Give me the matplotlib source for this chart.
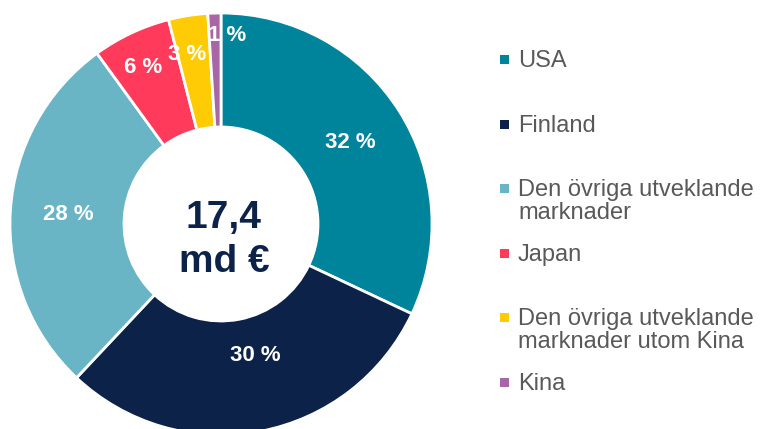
import numpy as np
import matplotlib
matplotlib.use("Agg")
import matplotlib.pyplot as plt
from matplotlib.patches import Rectangle

plt.rcParams['font.family'] = ['Liberation Sans', 'DejaVu Sans']

categories = ["USA", "Finland", "Den övriga utveklande\nmarknader", "Japan",
              "Den övriga utveklande\nmarknader utom Kina", "Kina"]
values = [32, 30, 28, 6, 3, 1]
pct_labels = ["32 %", "30 %", "28 %", "6 %", "3 %", "1 %"]
center_text = "17,4\nmd €"
colors = ["#00849C", "#0D2249", "#69B4C5", "#FF3A5A", "#FFCB05", "#A866A5"]

W, H = 762, 429
fig = plt.figure(figsize=(W / 100, H / 100), dpi=100)
ax = fig.add_axes([0, 0, 1, 1])

cx, cy, R, r_in = 221, H - 224, 211, 97
wedges, _ = ax.pie(values, colors=colors, startangle=90, counterclock=False,
                   center=(cx, cy), radius=R,
                   wedgeprops=dict(width=R - r_in, edgecolor='white', linewidth=2),
                   frame=True)
ax.set_xlim(0, W)
ax.set_ylim(0, H)
ax.set_aspect('equal')
ax.axis('off')

label_r = [153, 136, 153, 175, 173, 189]
label_da = [0, 3.6, 0, 1.2, 2.2, -3.6]
total = sum(values)
start = 90.0
for v, lab, lr, da in zip(values, pct_labels, label_r, label_da):
    sweep = 360.0 * v / total
    mid = np.deg2rad(start - sweep / 2 + da)
    start -= sweep
    ax.text(cx + lr * np.cos(mid), cy + lr * np.sin(mid), lab,
            ha='center', va='center', color='white', fontsize=16, fontweight='bold')

ax.text(cx + 3, cy - 16, center_text, ha='center', va='center', color='#0D2249',
        fontsize=28, fontweight='bold', linespacing=1.3)

# legend
lx_box, lx_txt = 500, 518
y0, step = 59, 64.6
for i, (cat, col) in enumerate(zip(categories, colors)):
    yc = H - (y0 + step * i)
    ax.add_patch(Rectangle((lx_box, yc - 5), 9, 9, facecolor=col, edgecolor='none'))
    ax.text(lx_txt, yc + 9, cat, ha='left', va='top', color='#595959',
            fontsize=17, linespacing=1.05)

fig.savefig("out.png", dpi=100)
